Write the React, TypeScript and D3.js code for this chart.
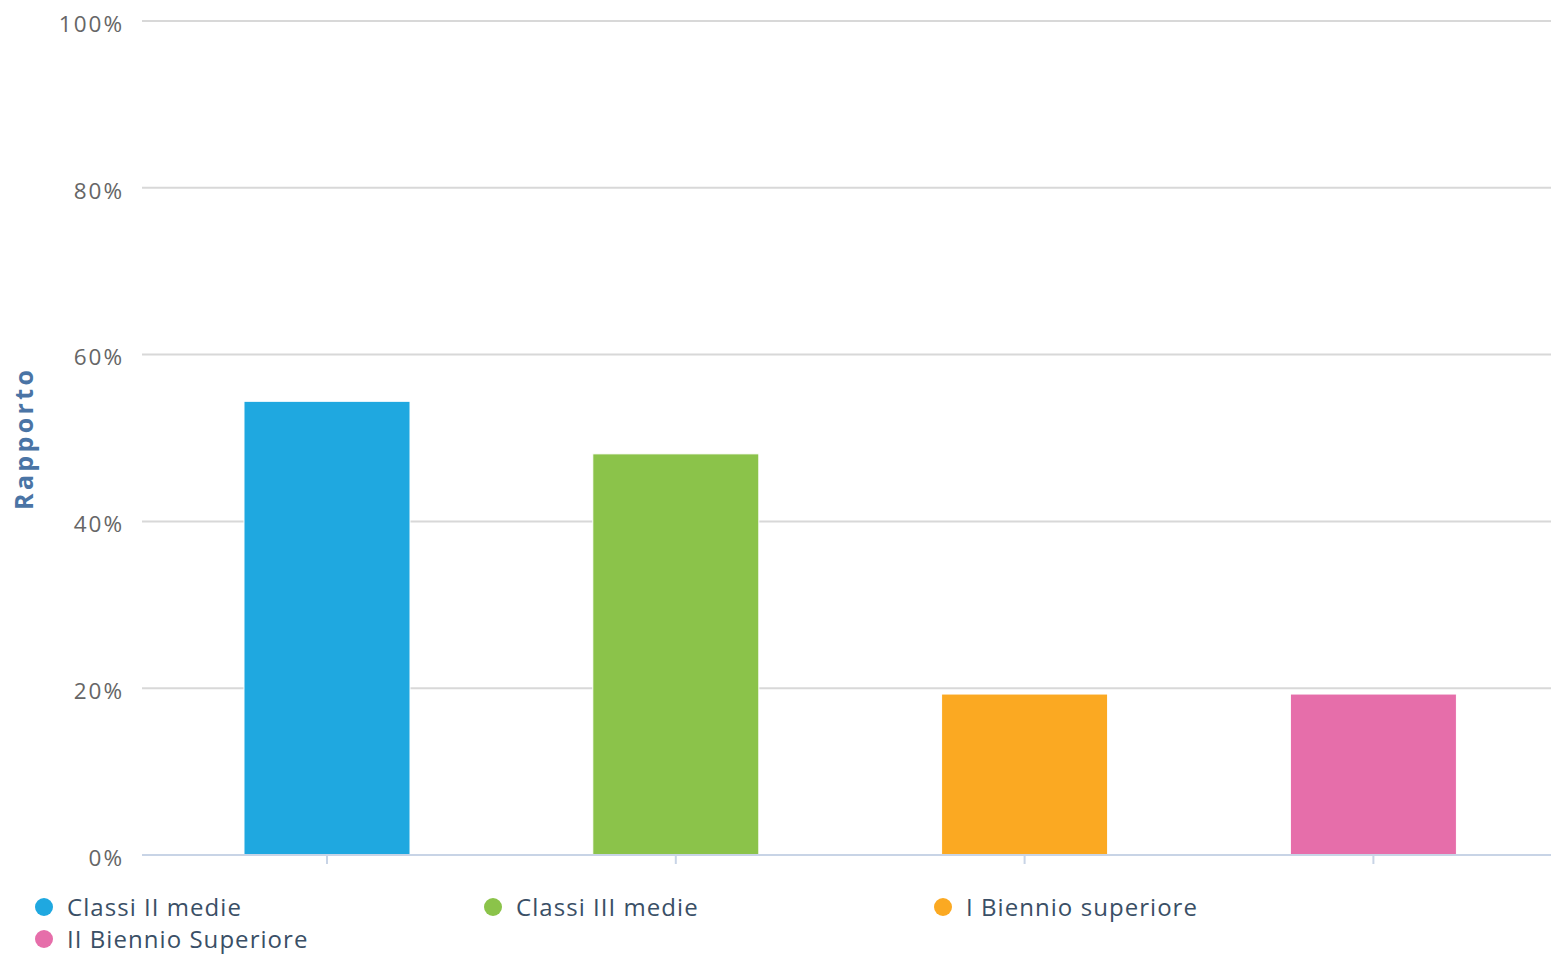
import React from "react";
import * as d3 from "d3";

const categories = ["Classi II medie", "Classi III medie", "I Biennio superiore", "II Biennio Superiore"];
const values = [54.4, 48.1, 19.3, 19.3];
const colors = ["#1fa8e0", "#8bc34a", "#fba922", "#e66eaa"];
const yTicks = [0, 20, 40, 60, 80, 100];
const yTitle = "Rapporto";

const W = 1551;
const H = 958;
const plotLeft = 152.6;
const plotRight = 1547.8;
const gridLeft = 142;
const top = 21;
const bottom = 855;
const FONT = "'Open Sans', sans-serif";

export default function App() {
  const x = d3.scaleBand<string>().domain(categories).range([plotLeft, plotRight]).paddingInner(0.524).paddingOuter(0.262);
  const y = d3.scaleLinear().domain([0, 100]).range([bottom, top]);
  const legendX = [44, 493, 943];
  return (
    <svg width={W} height={H} style={{ position: "absolute", left: 0, top: 0, background: "#fff" }}>
      {yTicks.map((t) => (
        <g key={t}>
          {t > 0 && (
            <line x1={gridLeft} x2={W} y1={y(t)} y2={y(t)} stroke="#d8d8d8" strokeWidth={2} />
          )}
          <text
            x={124}
            y={y(t) + 3}
            dy="0.35em"
            textAnchor="end"
            fontFamily={FONT}
            fontSize={22.5}
            letterSpacing={2}
            fill="#666"
          >
            {t}%
          </text>
        </g>
      ))}
      <text
        transform={`translate(33, 440) rotate(-90)`}
        textAnchor="middle"
        fontFamily={FONT}
        fontWeight="bold"
        fontSize={25}
        textLength={140}
        lengthAdjust="spacing"
        fill="#4a74a5"
      >
        {yTitle}
      </text>
      {categories.map((c, i) => (
        <rect
          key={c}
          x={x(c)}
          y={y(values[i])}
          width={x.bandwidth()}
          height={bottom - y(values[i])}
          fill={colors[i]}
          stroke="#fff"
          strokeWidth={1}
        />
      ))}
      <line x1={gridLeft} x2={W} y1={bottom} y2={bottom} stroke="#c8d4e6" strokeWidth={2} />
      {categories.map((c) => (
        <line
          key={c}
          x1={(x(c) as number) + x.bandwidth() / 2}
          x2={(x(c) as number) + x.bandwidth() / 2}
          y1={bottom}
          y2={bottom + 9}
          stroke="#c8d4e6"
          strokeWidth={2}
        />
      ))}
      {categories.map((c, i) => {
        const col = i % 3;
        const row = Math.floor(i / 3);
        const lx = legendX[col];
        const ly = 907 + row * 32;
        return (
          <g key={c}>
            <circle cx={lx} cy={ly} r={9} fill={colors[i]} />
            <text
              x={lx + 23}
              y={ly + 1}
              dy="0.35em"
              fontFamily={FONT}
              fontSize={24}
              letterSpacing={1.05}
              fill="#3a4f66"
            >
              {c}
            </text>
          </g>
        );
      })}
    </svg>
  );
}
